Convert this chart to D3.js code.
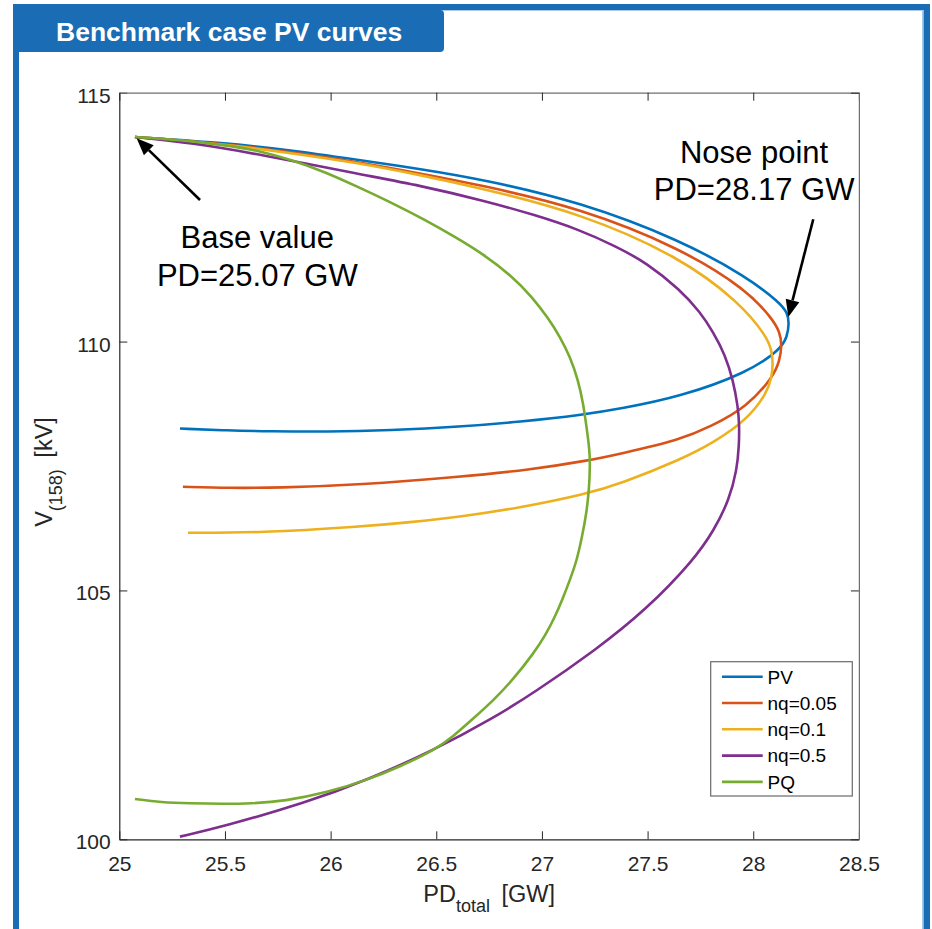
<!DOCTYPE html>
<html>
<head>
<meta charset="utf-8">
<script src="https://cdn.jsdelivr.net/npm/d3@7"></script>
<style>
  html, body { margin: 0; padding: 0; background: #ffffff; }
  svg { display: block; }
  text { font-family: "Liberation Sans", Arial, Helvetica, sans-serif; }
</style>
</head>
<body>
<div id="chart"></div>
<script>
// ---- Data: PV curves for the benchmark case (PD_total in GW, V at bus 158 in kV) ----
const seriesNames = ["PV", "nq=0.05", "nq=0.1", "nq=0.5", "PQ"];
const seriesColors = ["#0072BD", "#D95319", "#EDB120", "#7E2F8E", "#77AC30"];

// Each curve runs from the base point, over the nose, and back along the lower branch.
const pvPD = [25.074, 25.500, 25.808, 26.130, 26.423, 26.731, 27.180, 27.654, 27.971, 28.127, 28.162, 28.170,
              28.161, 28.127, 27.971, 27.654, 27.370, 27.195, 26.896, 26.612, 26.281, 25.983, 25.713, 25.510, 25.287];
const pvV  = [114.110, 113.990, 113.849, 113.649, 113.468, 113.247, 112.805, 112.042, 111.299, 110.777, 110.576, 110.376,
              110.094, 109.833, 109.372, 108.890, 108.649, 108.528, 108.388, 108.287, 108.217, 108.187, 108.197, 108.213, 108.253];

const nq005PD = [25.074, 25.500, 25.808, 26.130, 26.423, 26.707, 27.180, 27.654, 27.971, 28.094, 28.125, 28.136,
                 28.125, 28.094, 27.971, 27.796, 27.654, 27.370, 27.213, 26.944, 26.612, 26.139, 25.746, 25.524, 25.301];
const nq005V  = [114.110, 113.970, 113.809, 113.608, 113.378, 113.147, 112.685, 111.882, 111.038, 110.436, 110.195, 109.934,
                 109.612, 109.291, 108.689, 108.287, 108.026, 107.745, 107.604, 107.424, 107.283, 107.122, 107.062, 107.058, 107.082];

const nq01PD = [25.074, 25.500, 25.808, 26.130, 26.423, 26.707, 27.180, 27.654, 27.938, 28.065, 28.086, 28.094,
                28.087, 28.065, 27.971, 27.810, 27.654, 27.370, 27.213, 26.896, 26.612, 26.376, 26.139, 25.666, 25.325];
const nq01V  = [114.110, 113.960, 113.789, 113.588, 113.347, 113.086, 112.584, 111.701, 110.777, 110.094, 109.833, 109.572,
                109.271, 108.970, 108.428, 107.966, 107.625, 107.143, 106.942, 106.661, 106.480, 106.370, 106.279, 106.159, 106.159];

const nq05PD = [25.074, 25.344, 25.656, 26.130, 26.423, 26.731, 26.967, 27.180, 27.346, 27.497, 27.654, 27.748, 27.810,
                27.867, 27.904, 27.928, 27.934, 27.933,
                27.923, 27.886, 27.816, 27.720, 27.493, 27.256, 26.963, 26.769, 26.494, 26.177, 25.884, 25.491, 25.287];
const nq05V  = [114.110, 113.990, 113.769, 113.367, 113.137, 112.825, 112.544, 112.243, 111.922, 111.580, 111.038, 110.596, 110.195,
                109.733, 109.231, 108.689, 108.327, 107.926,
                107.424, 106.821, 106.219, 105.617, 104.612, 103.809, 102.946, 102.434, 101.801, 101.199, 100.737, 100.255, 100.054];

const pqPD = [25.074, 25.287, 25.500, 25.666, 25.817, 25.974, 26.130, 26.291, 26.447, 26.589, 26.721, 26.863, 26.953,
              27.029, 27.086, 27.133, 27.171, 27.195, 27.213, 27.225, 27.228,
              27.223, 27.211, 27.190, 27.166, 27.133, 27.100, 27.062, 27.015, 26.963, 26.863, 26.769, 26.669, 26.579,
              26.494, 26.328, 26.177, 25.983, 25.784, 25.619, 25.491, 25.335, 25.197, 25.074];
const pqV  = [114.110, 114.050, 113.950, 113.829, 113.649, 113.408, 113.106, 112.785, 112.444, 112.102, 111.761, 111.299, 110.898,
              110.476, 110.094, 109.693, 109.231, 108.769, 108.227, 107.825, 107.524,
              107.022, 106.560, 106.078, 105.617, 105.215, 104.853, 104.472, 104.090, 103.749, 103.207, 102.785, 102.404, 102.062,
              101.801, 101.460, 101.199, 100.938, 100.767, 100.717, 100.711, 100.721, 100.743, 100.811];

const seriesPD = [pvPD, nq005PD, nq01PD, nq05PD, pqPD];
const seriesV  = [pvV, nq005V, nq01V, nq05V, pqV];

const xTicks = [25, 25.5, 26, 26.5, 27, 27.5, 28, 28.5];
const xTickLabels = ["25", "25.5", "26", "26.5", "27", "27.5", "28", "28.5"];
const yTicks = [100, 105, 110, 115];
const yTickLabels = ["100", "105", "110", "115"];

// Annotations (text anchor and arrow tail/tip in data units)
const baseLabel = ["Base value", "PD=25.07 GW"];
const baseLabelAt = [25.653, 111.88];
const baseArrow = [[25.382, 112.845], [25.082, 114.084]];
const noseLabel = ["Nose point", "PD=28.17 GW"];
const noseLabelAt = [28.004, 113.594];
const noseArrow = [[28.284, 112.458], [28.166, 110.496]];

// ---- Layout ----
const W = 932, H = 929;
const plot = { left: 119.3, right: 858.9, top: 92.7, bottom: 839.3 };
const frameBlue = "#1a6db5";
const axisColor = "#262626";

const svg = d3.select("#chart").append("svg")
  .attr("width", W).attr("height", H);

// Panel frame and title tab
svg.append("rect").attr("x", 13).attr("y", 4).attr("width", 917).attr("height", 6).attr("fill", frameBlue);
svg.append("rect").attr("x", 13).attr("y", 4).attr("width", 6).attr("height", H).attr("fill", frameBlue);
svg.append("rect").attr("x", 923.5).attr("y", 4).attr("width", 6.5).attr("height", H).attr("fill", frameBlue);
svg.append("line").attr("x1", 19).attr("x2", 923.5).attr("y1", 10.5).attr("y2", 10.5)
  .attr("stroke", "#a9c9e8").attr("stroke-width", 1);
svg.append("line").attr("x1", 922.5).attr("x2", 922.5).attr("y1", 10).attr("y2", H)
  .attr("stroke", "#a9c9e8").attr("stroke-width", 1);
svg.append("path")
  .attr("d", "M13,10 H440 Q444,10 444,14 V48 Q444,52 440,52 H13 Z")
  .attr("fill", frameBlue);
svg.append("text")
  .attr("x", 56).attr("y", 41)
  .attr("fill", "#ffffff")
  .attr("font-size", 26.5).attr("font-weight", "bold")
  .text("Benchmark case PV curves");

// Scales
const x = d3.scaleLinear().domain([25, 28.5]).range([plot.left, plot.right]);
const y = d3.scaleLinear().domain([100, 115]).range([plot.bottom, plot.top]);

// Axes (ticks pointing inward, box on all four sides)
const tickFont = 21;
const gx = svg.append("g").attr("transform", `translate(0,${plot.bottom})`)
  .call(d3.axisBottom(x).tickValues(xTicks).tickFormat((d, i) => xTickLabels[i])
    .tickSizeInner(-8).tickSizeOuter(0).tickPadding(16.5));
const gy = svg.append("g").attr("transform", `translate(${plot.left},0)`)
  .call(d3.axisLeft(y).tickValues(yTicks).tickFormat((d, i) => yTickLabels[i])
    .tickSizeInner(-8).tickSizeOuter(0).tickPadding(8.6));
const gt = svg.append("g").attr("transform", `translate(0,${plot.top})`)
  .call(d3.axisTop(x).tickValues(xTicks).tickFormat("").tickSizeInner(-8).tickSizeOuter(0));
const gr = svg.append("g").attr("transform", `translate(${plot.right},0)`)
  .call(d3.axisRight(y).tickValues(yTicks).tickFormat("").tickSizeInner(-8).tickSizeOuter(0));

[gx, gy, gt, gr].forEach(g => {
  g.select(".domain").attr("stroke", axisColor).attr("stroke-width", 1.2);
  g.selectAll(".tick line").attr("stroke", axisColor).attr("stroke-width", 1);
  g.selectAll(".tick text").attr("fill", axisColor).attr("font-size", tickFont)
    .attr("font-family", '"Liberation Sans", Arial, Helvetica, sans-serif');
});
gy.selectAll(".tick text").attr("dy", "0.45em");
[gt, gr].forEach(g => g.select(".domain").attr("stroke", "#6e6e6e"));

// Axis titles
const labelFont = 23.5, subFont = 18;
const xl = svg.append("text")
  .attr("x", (plot.left + plot.right) / 2).attr("y", 901.7)
  .attr("text-anchor", "middle").attr("fill", axisColor).attr("font-size", labelFont);
xl.append("tspan").text("PD");
xl.append("tspan").attr("font-size", subFont).attr("dy", 10).text("total");
xl.append("tspan").attr("dy", -10).attr("dx", 5).text("\u00a0[GW]");

const yl = svg.append("text")
  .attr("transform", `translate(52,${(plot.top + plot.bottom) / 2 + 6}) rotate(-90)`)
  .attr("text-anchor", "middle").attr("fill", axisColor).attr("font-size", labelFont);
yl.append("tspan").text("V");
yl.append("tspan").attr("font-size", subFont).attr("dy", 10).text("(158)");
yl.append("tspan").attr("dy", -10).attr("dx", 5).text("\u00a0[kV]");

// Curves (smoothed B-spline through the sampled points)
svg.append("clipPath").attr("id", "plotclip").append("rect")
  .attr("x", plot.left).attr("y", plot.top)
  .attr("width", plot.right - plot.left).attr("height", plot.bottom - plot.top);

const line = d3.line()
  .x(d => x(d[0])).y(d => y(d[1]))
  .curve(d3.curveBasis);

const curves = svg.append("g").attr("clip-path", "url(#plotclip)");
seriesNames.forEach((name, i) => {
  const pts = seriesPD[i].map((p, k) => [p, seriesV[i][k]]);
  curves.append("path")
    .datum(pts)
    .attr("d", line)
    .attr("fill", "none")
    .attr("stroke", seriesColors[i])
    .attr("stroke-width", 2.6)
    .attr("stroke-linejoin", "round")
    .attr("stroke-linecap", "butt");
});

// Annotation arrows and text
function arrow(tail, tip) {
  const x0 = x(tail[0]), y0 = y(tail[1]), x1 = x(tip[0]), y1 = y(tip[1]);
  const ang = Math.atan2(y1 - y0, x1 - x0);
  const headLen = 17, headHalf = 7;
  const bx = x1 - headLen * Math.cos(ang), by = y1 - headLen * Math.sin(ang);
  svg.append("line").attr("x1", x0).attr("y1", y0).attr("x2", bx).attr("y2", by)
    .attr("stroke", "#000").attr("stroke-width", 2.6);
  const px = -Math.sin(ang), py = Math.cos(ang);
  svg.append("path")
    .attr("d", `M${x1},${y1} L${bx + headHalf * px},${by + headHalf * py} L${bx - headHalf * px},${by - headHalf * py} Z`)
    .attr("fill", "#000");
}
arrow(baseArrow[0], baseArrow[1]);
arrow(noseArrow[0], noseArrow[1]);

function note(lines, at) {
  const t = svg.append("text")
    .attr("x", x(at[0])).attr("y", y(at[1]))
    .attr("text-anchor", "middle").attr("fill", "#000").attr("font-size", 31);
  lines.forEach((s, i) => {
    t.append("tspan").attr("x", x(at[0])).attr("dy", i === 0 ? 0 : 37.8).text(s);
  });
}
note(baseLabel, baseLabelAt);
note(noseLabel, noseLabelAt);

// Legend
const lg = { x: 710.7, y: 661.7, w: 141.6, h: 134.3, row0: 676.7, step: 26.3 };
svg.append("rect").attr("x", lg.x).attr("y", lg.y).attr("width", lg.w).attr("height", lg.h)
  .attr("fill", "#ffffff").attr("stroke", "#6a6a6a").attr("stroke-width", 1.2);
seriesNames.forEach((name, i) => {
  const cy = lg.row0 + i * lg.step;
  svg.append("line").attr("x1", 722).attr("x2", 762.7).attr("y1", cy).attr("y2", cy)
    .attr("stroke", seriesColors[i]).attr("stroke-width", 2.6);
  svg.append("text").attr("x", 767.5).attr("y", cy + 6.8)
    .attr("fill", "#000").attr("font-size", 19).text(name);
});
</script>
</body>
</html>
